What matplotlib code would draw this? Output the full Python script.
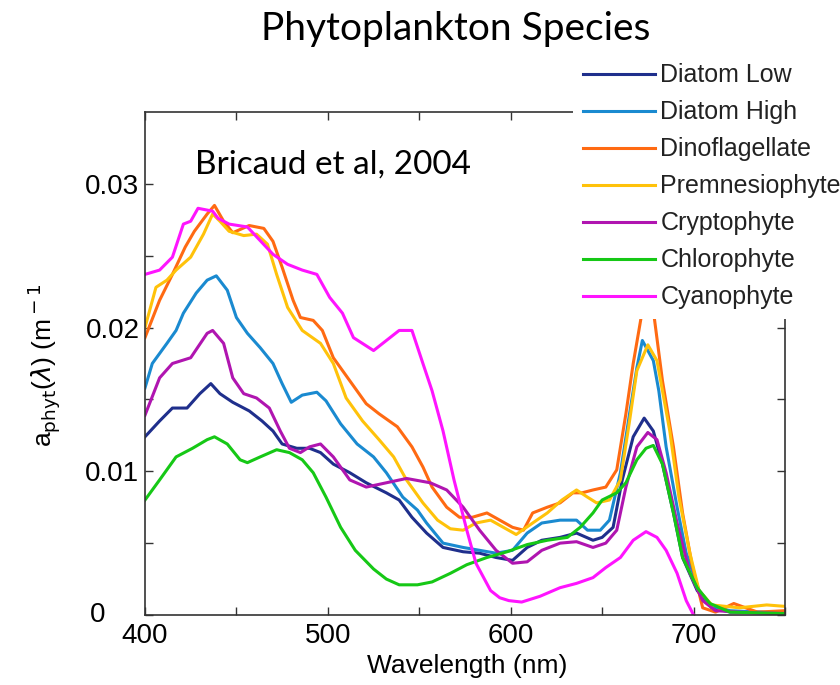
import matplotlib
matplotlib.use("Agg")
import matplotlib.pyplot as plt

# wavelength (nm) / absorption (m^-1)
wl_diatom_low = [400, 408, 415, 423, 430, 436, 441, 448, 457, 464, 470, 475, 483, 490, 496, 503, 512, 521, 532, 539, 546, 554, 563, 574, 583, 592, 601, 609, 617, 627, 636, 645, 650, 656, 661, 667, 673, 678, 683, 689, 694, 702, 710, 720, 735, 750]
a_diatom_low = [0.0124, 0.0135, 0.0144, 0.0144, 0.0154, 0.0161, 0.0154, 0.0148, 0.0142, 0.0135, 0.0128, 0.0119, 0.0116, 0.0116, 0.0113, 0.0105, 0.0099, 0.0092, 0.0085, 0.008, 0.0068, 0.0057, 0.0047, 0.0044, 0.0043, 0.004, 0.0038, 0.0047, 0.0052, 0.0054, 0.0057, 0.0052, 0.0054, 0.0061, 0.0094, 0.0124, 0.0137, 0.0128, 0.0105, 0.0071, 0.004, 0.0017, 0.0005, 0.0002, 0.0002, 0.0001]

wl_diatom_high = [400, 404, 412, 417, 421, 428, 434, 439, 445, 450, 456, 463, 470, 475, 480, 486, 494, 499, 507, 516, 525, 532, 541, 549, 554, 563, 574, 583, 592, 601, 609, 617, 627, 636, 642, 649, 654, 660, 665, 669, 672, 678, 681, 685, 691, 696, 703, 710, 720, 735, 750]
a_diatom_high = [0.0158, 0.0175, 0.0189, 0.0198, 0.021, 0.0224, 0.0233, 0.0236, 0.0226, 0.0207, 0.0196, 0.0186, 0.0175, 0.0161, 0.0148, 0.0153, 0.0155, 0.0149, 0.0133, 0.0119, 0.011, 0.0099, 0.0082, 0.0073, 0.0064, 0.005, 0.0047, 0.0045, 0.0043, 0.0045, 0.0057, 0.0064, 0.0066, 0.0066, 0.0059, 0.0059, 0.0066, 0.0099, 0.014, 0.0172, 0.0191, 0.0177, 0.0156, 0.0117, 0.0075, 0.0043, 0.0017, 0.0006, 0.0003, 0.0002, 0.0002]

wl_dino = [400, 408, 415, 422, 427, 434, 438, 443, 448, 457, 465, 470, 475, 481, 485, 492, 497, 503, 512, 521, 528, 538, 546, 552, 557, 565, 572, 579, 587, 594, 601, 607, 612, 620, 627, 634, 639, 645, 652, 658, 663, 667, 672, 675, 678, 683, 689, 694, 699, 705, 712, 722, 735, 750]
a_dino = [0.0193, 0.0219, 0.0237, 0.0256, 0.0267, 0.0279, 0.0285, 0.0274, 0.0266, 0.0271, 0.0269, 0.026, 0.0242, 0.0219, 0.0207, 0.0205, 0.0198, 0.0179, 0.0163, 0.0147, 0.014, 0.0131, 0.0117, 0.0103, 0.0089, 0.0075, 0.0068, 0.0068, 0.0071, 0.0066, 0.0061, 0.0059, 0.0071, 0.0075, 0.0078, 0.0085, 0.0085, 0.0087, 0.0089, 0.0101, 0.014, 0.0175, 0.0212, 0.0218, 0.0212, 0.0163, 0.0117, 0.0071, 0.0036, 0.0005, 0.0002, 0.0008, 0.0002, 0.0003]

wl_prem = [400, 406, 412, 417, 425, 432, 437, 441, 446, 454, 461, 467, 472, 478, 486, 496, 503, 510, 519, 528, 536, 543, 552, 560, 567, 574, 581, 589, 596, 603, 612, 620, 628, 636, 642, 647, 654, 660, 665, 669, 675, 680, 683, 687, 692, 698, 703, 710, 725, 740, 750]
a_prem = [0.02, 0.0228, 0.0233, 0.024, 0.0249, 0.0265, 0.0279, 0.0274, 0.0267, 0.0264, 0.0265, 0.0258, 0.0237, 0.0214, 0.0198, 0.0189, 0.0175, 0.0151, 0.0135, 0.0122, 0.011, 0.0094, 0.0078, 0.0066, 0.006, 0.0059, 0.0064, 0.0066, 0.0061, 0.0056, 0.0064, 0.0071, 0.008, 0.0087, 0.0082, 0.0078, 0.008, 0.0094, 0.0135, 0.017, 0.0188, 0.0177, 0.0156, 0.0128, 0.0082, 0.0043, 0.0017, 0.0007, 0.0005, 0.0007, 0.0006]

wl_crypto = [400, 408, 415, 425, 434, 437, 443, 448, 454, 461, 468, 474, 479, 485, 490, 496, 503, 512, 521, 532, 543, 556, 565, 574, 583, 592, 601, 609, 617, 627, 636, 645, 652, 658, 663, 669, 675, 680, 685, 691, 698, 705, 712, 725, 750]
a_crypto = [0.0139, 0.0165, 0.0175, 0.0179, 0.0196, 0.0198, 0.0189, 0.0165, 0.0154, 0.0151, 0.0144, 0.0128, 0.0116, 0.0113, 0.0117, 0.0119, 0.011, 0.0094, 0.0089, 0.0092, 0.0095, 0.0092, 0.0087, 0.0075, 0.0059, 0.0045, 0.0036, 0.0037, 0.0045, 0.005, 0.0051, 0.0047, 0.005, 0.0059, 0.0089, 0.0117, 0.0127, 0.0122, 0.0099, 0.0064, 0.0029, 0.001, 0.0003, 0.0002, 0.0001]

wl_chloro = [400, 408, 417, 426, 434, 438, 445, 452, 456, 463, 472, 479, 486, 492, 499, 507, 515, 525, 532, 539, 549, 557, 567, 576, 587, 598, 609, 620, 631, 638, 645, 650, 658, 663, 669, 674, 678, 683, 689, 694, 702, 709, 720, 750]
a_chloro = [0.008, 0.0094, 0.011, 0.0116, 0.0122, 0.0124, 0.0119, 0.0108, 0.0106, 0.011, 0.0115, 0.0113, 0.0108, 0.0099, 0.0082, 0.0061, 0.0045, 0.0032, 0.0025, 0.0021, 0.0021, 0.0023, 0.0029, 0.0035, 0.004, 0.0044, 0.0049, 0.0052, 0.0054, 0.0061, 0.0071, 0.008, 0.0085, 0.0092, 0.0108, 0.0116, 0.0118, 0.0105, 0.0071, 0.004, 0.0019, 0.0008, 0.0002, 0.0001]

wl_cyano = [400, 408, 415, 421, 425, 429, 437, 440, 446, 456, 470, 478, 486, 494, 501, 508, 514, 525, 532, 539, 546, 552, 557, 563, 569, 576, 581, 589, 594, 599, 606, 616, 627, 636, 645, 652, 660, 667, 674, 680, 685, 691, 696, 700]
a_cyano = [0.0237, 0.024, 0.0249, 0.0272, 0.0274, 0.0283, 0.0281, 0.0276, 0.0272, 0.027, 0.0251, 0.0244, 0.024, 0.0237, 0.0221, 0.021, 0.0193, 0.0184, 0.0191, 0.0198, 0.0198, 0.0175, 0.0156, 0.0128, 0.0094, 0.0059, 0.0036, 0.0017, 0.0012, 0.001, 0.0009, 0.0013, 0.0019, 0.0022, 0.0026, 0.0033, 0.004, 0.0052, 0.0058, 0.0054, 0.0045, 0.0029, 0.001, 0.0]

series = [
    ("Diatom Low", wl_diatom_low, a_diatom_low, "#1f2f8c"),
    ("Diatom High", wl_diatom_high, a_diatom_high, "#1a8ad0"),
    ("Dinoflagellate", wl_dino, a_dino, "#ff6a12"),
    ("Premnesiophyte", wl_prem, a_prem, "#ffc20a"),
    ("Cryptophyte", wl_crypto, a_crypto, "#b015b0"),
    ("Chlorophyte", wl_chloro, a_chloro, "#16c816"),
    ("Cyanophyte", wl_cyano, a_cyano, "#ff14ff"),
]

plt.rcParams['font.family'] = ['Liberation Sans', 'DejaVu Sans']

fig = plt.figure(figsize=(8.4, 6.85), dpi=100)
ax = fig.add_axes([0.1726, 0.1022, 0.7619, 0.7343])

for name, x, y, c in series:
    ax.plot(x, y, color=c, lw=2.2, label=name)

ax.set_xlim(400, 750)
ax.set_ylim(0, 0.035)
ax.set_xticks([400, 500, 600, 700])
ax.set_xticks([450, 550, 650, 750], minor=True)
# the "0" label sits further left than the others in the original
ax.set_yticks([0, 0.01, 0.02, 0.03])
ax.set_yticklabels(["", "0.01", "0.02", "0.03"])
ax.set_yticks([0.005, 0.015, 0.025], minor=True)
ax.annotate("0", xy=(0, 0), xycoords='axes fraction', xytext=(-40, 0),
            textcoords='offset pixels', ha='right', va='center', fontsize=20)
ax.tick_params(which='both', direction='in', top=True, right=True, length=6, width=1, color='#333333')
ax.tick_params(axis='both', labelsize=20)
ax.tick_params(axis='x', pad=6)
ax.tick_params(axis='y', pad=4)
for s in ax.spines.values():
    s.set_color('#333333')
    s.set_linewidth(1.2)

ax.set_xlabel("Wavelength (nm)", fontsize=19)
ax.xaxis.set_label_coords(0.503, -0.078)
ax.set_ylabel(r"a$_{\rm phyt}$($\lambda$) (m$^{\rm -1}$", fontsize=19)
ax.yaxis.set_label_coords(-0.13, 0.497)

ax.text(0.078, 0.877, "Bricaud et al, 2004", transform=ax.transAxes, fontsize=24,
        family=['Lato', 'DejaVu Sans'], va='baseline')

fig.text(0.542, 0.958, "Phytoplankton Species", fontsize=28, family=['Lato', 'DejaVu Sans'],
         ha='center', va='center')

leg = fig.legend(loc='upper left', bbox_to_anchor=(0.682, 0.922), fontsize=18,
                 handlelength=2.9, handletextpad=0.2, labelspacing=0.52,
                 frameon=True, borderpad=0.4, borderaxespad=0)
leg.get_frame().set_facecolor('white')
leg.get_frame().set_edgecolor('none')
leg.get_frame().set_alpha(1)
for t in leg.get_texts():
    t.set_color('#222222')

fig.savefig("out.png", dpi=100)
